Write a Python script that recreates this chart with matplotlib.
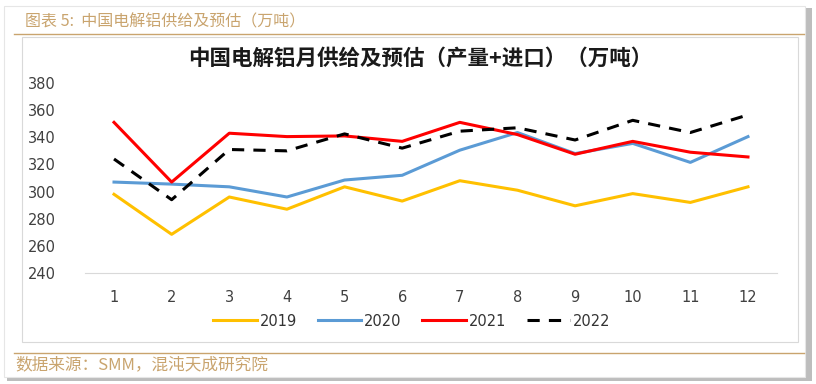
import matplotlib
matplotlib.use("Agg")
import matplotlib.pyplot as plt
from matplotlib.patches import Rectangle
from matplotlib.lines import Line2D

plt.rcParams['font.family'] = ['Noto Sans CJK SC', 'DejaVu Sans']

months = [1, 2, 3, 4, 5, 6, 7, 8, 9, 10, 11, 12]
s2019 = [298, 268.5, 296, 287, 303.5, 293, 308, 301, 289.5, 298.5, 292, 303.5]
s2020 = [307, 305.5, 303.5, 296, 308.5, 312, 330.5, 343.5, 328, 335.5, 321.5, 340.5]
s2021 = [351, 307, 343, 340.5, 341, 337, 351, 342, 327.5, 337, 329, 325.5]
s2022 = [324, 294, 331, 330, 342.5, 332, 344.5, 347, 338, 352.5, 343.5, 356.5]
yticks = [240, 260, 280, 300, 320, 340, 360, 380]

W, H = 816, 384
fig = plt.figure(figsize=(W / 100, H / 100), dpi=100)
fig.patch.set_facecolor('white')

def fx(x):
    return x / W

def fy(y):
    return 1 - y / H

# outer page shadow / frame
fig.patches.append(Rectangle((fx(7), fy(381)), fx(805), 373 / H, transform=fig.transFigure,
                             facecolor='#bdbdbd', edgecolor='none', zorder=0))
fig.patches.append(Rectangle((fx(4), fy(377)), fx(801), 371 / H, transform=fig.transFigure,
                             facecolor='white', edgecolor='#e6e6e6', lw=0.8, zorder=0.5))
# inner chart box
fig.patches.append(Rectangle((fx(22), fy(342)), fx(776), 305 / H, transform=fig.transFigure,
                             facecolor='white', edgecolor='#d9d9d9', lw=0.8, zorder=1))

tan = '#c9a46e'
fig.add_artist(Line2D([fx(14), fx(804)], [fy(34), fy(34)], color=tan, lw=1.0))
fig.add_artist(Line2D([fx(14), fx(804)], [fy(353), fy(353)], color=tan, lw=1.0))
fig.text(fx(25), fy(22), '图表 5:  中国电解铝供给及预估（万吨）', color=tan, fontsize=11.5,
         va='center', ha='left')
fig.text(fx(15), fy(365), '数据来源：SMM，混沌天成研究院', color=tan, fontsize=12,
         va='center', ha='left')

ax = fig.add_axes([fx(85.2), fy(273), (776.8 - 85.2) / W, (273 - 83) / H])
ax.set_zorder(2)
ax.patch.set_alpha(0)

ax.plot(months, s2019, color='#FFC000', lw=2.2, label='2019')
ax.plot(months, s2020, color='#5B9BD5', lw=2.2, label='2020')
ax.plot(months, s2021, color='#FF0000', lw=2.2, label='2021')
ax.plot(months, s2022, color='black', lw=2.2, ls=(0, (4, 3)), label='2022')

ax.set_xlim(0.5, 12.5)
ax.set_ylim(240, 380)
ax.set_xticks(months)
ax.set_xticklabels([str(m) for m in months])
ax.set_yticks(yticks)
for s in ['top', 'right', 'left']:
    ax.spines[s].set_visible(False)
ax.spines['bottom'].set_color('#d9d9d9')
ax.tick_params(axis='both', length=0, colors='#404040')
ax.tick_params(axis='y', pad=21)
ax.tick_params(axis='x', pad=12)
for lab in ax.get_xticklabels() + ax.get_yticklabels():
    lab.set_fontfamily(['DejaVu Sans'])
    lab.set_fontsize(10.5)

fig.text(fx(420), fy(58), '中国电解铝月供给及预估（产量+进口）（万吨）', ha='center', va='center',
         fontsize=15.5, fontweight='bold', color='#1a1a1a')

leg = ax.legend(loc='center', bbox_to_anchor=(fx(412), fy(321)), bbox_transform=fig.transFigure,
                ncol=4, frameon=False, handlelength=3.0, handletextpad=0.2,
                columnspacing=1.4, prop={'family': ['DejaVu Sans'], 'size': 10.5})
for t in leg.get_texts():
    t.set_color('#333333')

fig.savefig('out.png', dpi=100, facecolor='white')
